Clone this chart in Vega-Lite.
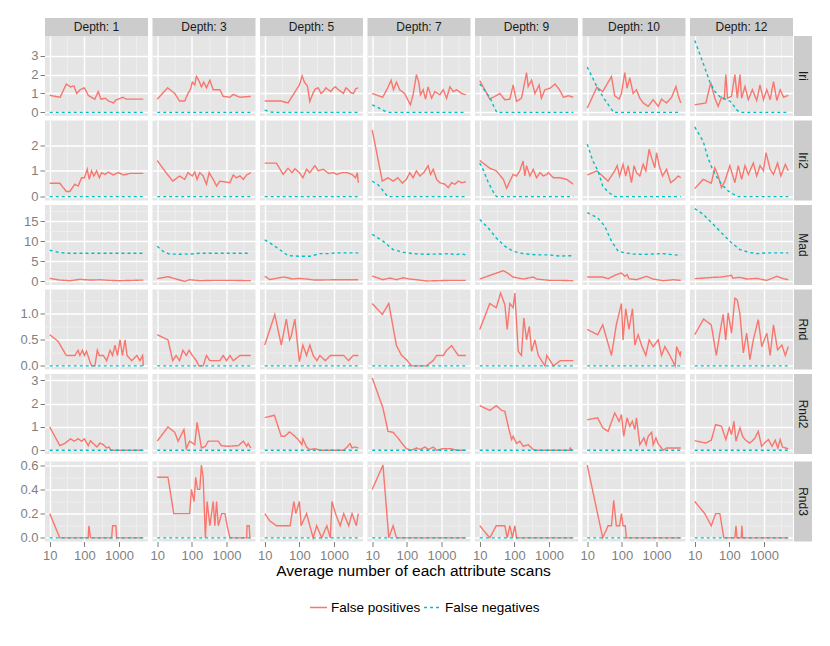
{
"$schema": "https://vega.github.io/schema/vega-lite/v6.json",
"padding": {"left": 15, "top": 18, "right": 10, "bottom": 10},
"config": {
 "font": "Liberation Sans",
 "view": {"fill": "#E5E5E5", "stroke": null},
 "axis": {"domain": false, "labelColor": "#7F7F7F", "labelFontSize": 13, "tickColor": "#7F7F7F", "tickSize": 5, "tickWidth": 1, "labelPadding": 2, "labelOverlap": false, "labelFlush": false},
 "title": {"fontSize": 15.5, "fontWeight": "normal", "color": "#000000"},
 "legend": {"symbolType": "stroke", "symbolSize": 289, "symbolStrokeWidth": 1.4, "labelFontSize": 13.5, "labelColor": "#000000", "labelOffset": 3, "columnPadding": 0}
},
"datasets": {"m": [
{"s":"Iri","d":1,"t":"P","x":10,"y":0.9},{"s":"Iri","d":1,"t":"P","x":20,"y":0.8},{"s":"Iri","d":1,"t":"P","x":30,"y":1.5},{"s":"Iri","d":1,"t":"P","x":40,"y":1.35},{"s":"Iri","d":1,"t":"P","x":50,"y":1.4},{"s":"Iri","d":1,"t":"P","x":60,"y":1.0},{"s":"Iri","d":1,"t":"P","x":75,"y":1.2},{"s":"Iri","d":1,"t":"P","x":100,"y":1.3},{"s":"Iri","d":1,"t":"P","x":130,"y":0.9},{"s":"Iri","d":1,"t":"P","x":160,"y":0.8},{"s":"Iri","d":1,"t":"P","x":200,"y":0.7},{"s":"Iri","d":1,"t":"P","x":250,"y":1.1},{"s":"Iri","d":1,"t":"P","x":300,"y":0.7},{"s":"Iri","d":1,"t":"P","x":400,"y":0.75},{"s":"Iri","d":1,"t":"P","x":500,"y":0.6},{"s":"Iri","d":1,"t":"P","x":700,"y":0.5},{"s":"Iri","d":1,"t":"P","x":800,"y":0.65},{"s":"Iri","d":1,"t":"P","x":1300,"y":0.8},{"s":"Iri","d":1,"t":"P","x":1600,"y":0.7},{"s":"Iri","d":1,"t":"P","x":5000,"y":0.7},
{"s":"Iri","d":1,"t":"N","x":10,"y":0},{"s":"Iri","d":1,"t":"N","x":5000,"y":0},
{"s":"Iri","d":3,"t":"P","x":10,"y":0.7},{"s":"Iri","d":3,"t":"P","x":20,"y":1.3},{"s":"Iri","d":3,"t":"P","x":32,"y":1.0},{"s":"Iri","d":3,"t":"P","x":44,"y":0.6},{"s":"Iri","d":3,"t":"P","x":62,"y":0.6},{"s":"Iri","d":3,"t":"P","x":77,"y":1.0},{"s":"Iri","d":3,"t":"P","x":90,"y":1.2},{"s":"Iri","d":3,"t":"P","x":103,"y":1.6},{"s":"Iri","d":3,"t":"P","x":121,"y":1.45},{"s":"Iri","d":3,"t":"P","x":135,"y":1.9},{"s":"Iri","d":3,"t":"P","x":158,"y":1.7},{"s":"Iri","d":3,"t":"P","x":188,"y":1.35},{"s":"Iri","d":3,"t":"P","x":220,"y":1.6},{"s":"Iri","d":3,"t":"P","x":263,"y":1.3},{"s":"Iri","d":3,"t":"P","x":330,"y":1.7},{"s":"Iri","d":3,"t":"P","x":411,"y":1.2},{"s":"Iri","d":3,"t":"P","x":641,"y":1.2},{"s":"Iri","d":3,"t":"P","x":800,"y":0.85},{"s":"Iri","d":3,"t":"P","x":1250,"y":0.8},{"s":"Iri","d":3,"t":"P","x":1560,"y":0.95},{"s":"Iri","d":3,"t":"P","x":2430,"y":0.8},{"s":"Iri","d":3,"t":"P","x":5000,"y":0.85},
{"s":"Iri","d":3,"t":"N","x":10,"y":0},{"s":"Iri","d":3,"t":"N","x":5000,"y":0},
{"s":"Iri","d":5,"t":"P","x":10,"y":0.6},{"s":"Iri","d":5,"t":"P","x":14,"y":0.6},{"s":"Iri","d":5,"t":"P","x":30,"y":0.6},{"s":"Iri","d":5,"t":"P","x":47,"y":0.5},{"s":"Iri","d":5,"t":"P","x":66,"y":0.93},{"s":"Iri","d":5,"t":"P","x":100,"y":1.45},{"s":"Iri","d":5,"t":"P","x":120,"y":1.93},{"s":"Iri","d":5,"t":"P","x":140,"y":1.6},{"s":"Iri","d":5,"t":"P","x":170,"y":1.4},{"s":"Iri","d":5,"t":"P","x":200,"y":0.58},{"s":"Iri","d":5,"t":"P","x":245,"y":1.0},{"s":"Iri","d":5,"t":"P","x":290,"y":1.25},{"s":"Iri","d":5,"t":"P","x":350,"y":1.3},{"s":"Iri","d":5,"t":"P","x":420,"y":1.0},{"s":"Iri","d":5,"t":"P","x":490,"y":1.1},{"s":"Iri","d":5,"t":"P","x":580,"y":1.3},{"s":"Iri","d":5,"t":"P","x":684,"y":1.2},{"s":"Iri","d":5,"t":"P","x":800,"y":1.1},{"s":"Iri","d":5,"t":"P","x":955,"y":1.28},{"s":"Iri","d":5,"t":"P","x":1100,"y":1.35},{"s":"Iri","d":5,"t":"P","x":1333,"y":1.2},{"s":"Iri","d":5,"t":"P","x":1600,"y":1.1},{"s":"Iri","d":5,"t":"P","x":1860,"y":1.0},{"s":"Iri","d":5,"t":"P","x":2200,"y":1.3},{"s":"Iri","d":5,"t":"P","x":2600,"y":1.2},{"s":"Iri","d":5,"t":"P","x":3000,"y":1.05},{"s":"Iri","d":5,"t":"P","x":3630,"y":1.0},{"s":"Iri","d":5,"t":"P","x":4200,"y":1.25},{"s":"Iri","d":5,"t":"P","x":5000,"y":1.3},
{"s":"Iri","d":5,"t":"N","x":10,"y":0.12},{"s":"Iri","d":5,"t":"N","x":15,"y":0.02},{"s":"Iri","d":5,"t":"N","x":20,"y":0},{"s":"Iri","d":5,"t":"N","x":5000,"y":0},
{"s":"Iri","d":7,"t":"P","x":10,"y":1.0},{"s":"Iri","d":7,"t":"P","x":20,"y":0.8},{"s":"Iri","d":7,"t":"P","x":28,"y":1.3},{"s":"Iri","d":7,"t":"P","x":35,"y":1.7},{"s":"Iri","d":7,"t":"P","x":41,"y":1.2},{"s":"Iri","d":7,"t":"P","x":50,"y":1.6},{"s":"Iri","d":7,"t":"P","x":62,"y":1.2},{"s":"Iri","d":7,"t":"P","x":86,"y":1.0},{"s":"Iri","d":7,"t":"P","x":126,"y":0.4},{"s":"Iri","d":7,"t":"P","x":151,"y":0.93},{"s":"Iri","d":7,"t":"P","x":188,"y":2.0},{"s":"Iri","d":7,"t":"P","x":220,"y":1.6},{"s":"Iri","d":7,"t":"P","x":246,"y":0.93},{"s":"Iri","d":7,"t":"P","x":294,"y":1.2},{"s":"Iri","d":7,"t":"P","x":345,"y":0.7},{"s":"Iri","d":7,"t":"P","x":410,"y":1.35},{"s":"Iri","d":7,"t":"P","x":514,"y":0.75},{"s":"Iri","d":7,"t":"P","x":640,"y":1.1},{"s":"Iri","d":7,"t":"P","x":890,"y":0.93},{"s":"Iri","d":7,"t":"P","x":1120,"y":1.2},{"s":"Iri","d":7,"t":"P","x":1400,"y":0.75},{"s":"Iri","d":7,"t":"P","x":1740,"y":1.35},{"s":"Iri","d":7,"t":"P","x":2180,"y":1.1},{"s":"Iri","d":7,"t":"P","x":2720,"y":1.2},{"s":"Iri","d":7,"t":"P","x":3800,"y":1.0},{"s":"Iri","d":7,"t":"P","x":5000,"y":0.93},
{"s":"Iri","d":7,"t":"N","x":10,"y":0.4},{"s":"Iri","d":7,"t":"N","x":15,"y":0.25},{"s":"Iri","d":7,"t":"N","x":20,"y":0.12},{"s":"Iri","d":7,"t":"N","x":28,"y":0},{"s":"Iri","d":7,"t":"N","x":5000,"y":0},
{"s":"Iri","d":9,"t":"P","x":10,"y":1.68},{"s":"Iri","d":9,"t":"P","x":19.5,"y":0.7},{"s":"Iri","d":9,"t":"P","x":38,"y":1.0},{"s":"Iri","d":9,"t":"P","x":53,"y":0.67},{"s":"Iri","d":9,"t":"P","x":74,"y":0.7},{"s":"Iri","d":9,"t":"P","x":92,"y":1.45},{"s":"Iri","d":9,"t":"P","x":115,"y":0.58},{"s":"Iri","d":9,"t":"P","x":160,"y":0.75},{"s":"Iri","d":9,"t":"P","x":200,"y":1.63},{"s":"Iri","d":9,"t":"P","x":224,"y":2.1},{"s":"Iri","d":9,"t":"P","x":250,"y":1.37},{"s":"Iri","d":9,"t":"P","x":313,"y":1.7},{"s":"Iri","d":9,"t":"P","x":390,"y":1.0},{"s":"Iri","d":9,"t":"P","x":520,"y":1.45},{"s":"Iri","d":9,"t":"P","x":600,"y":0.75},{"s":"Iri","d":9,"t":"P","x":760,"y":1.2},{"s":"Iri","d":9,"t":"P","x":1070,"y":1.28},{"s":"Iri","d":9,"t":"P","x":1490,"y":1.5},{"s":"Iri","d":9,"t":"P","x":2000,"y":1.2},{"s":"Iri","d":9,"t":"P","x":2600,"y":0.8},{"s":"Iri","d":9,"t":"P","x":3600,"y":0.88},{"s":"Iri","d":9,"t":"P","x":5000,"y":0.8},
{"s":"Iri","d":9,"t":"N","x":10,"y":1.5},{"s":"Iri","d":9,"t":"N","x":15,"y":1.1},{"s":"Iri","d":9,"t":"N","x":20,"y":0.75},{"s":"Iri","d":9,"t":"N","x":25,"y":0.35},{"s":"Iri","d":9,"t":"N","x":31,"y":0},{"s":"Iri","d":9,"t":"N","x":5000,"y":0},
{"s":"Iri","d":10,"t":"P","x":10,"y":0.23},{"s":"Iri","d":10,"t":"P","x":19,"y":1.33},{"s":"Iri","d":10,"t":"P","x":28,"y":1.1},{"s":"Iri","d":10,"t":"P","x":50,"y":1.9},{"s":"Iri","d":10,"t":"P","x":62,"y":0.88},{"s":"Iri","d":10,"t":"P","x":83,"y":0.7},{"s":"Iri","d":10,"t":"P","x":97,"y":1.0},{"s":"Iri","d":10,"t":"P","x":121,"y":2.1},{"s":"Iri","d":10,"t":"P","x":141,"y":1.28},{"s":"Iri","d":10,"t":"P","x":169,"y":1.83},{"s":"Iri","d":10,"t":"P","x":211,"y":1.0},{"s":"Iri","d":10,"t":"P","x":263,"y":1.2},{"s":"Iri","d":10,"t":"P","x":329,"y":0.75},{"s":"Iri","d":10,"t":"P","x":411,"y":0.5},{"s":"Iri","d":10,"t":"P","x":573,"y":0.32},{"s":"Iri","d":10,"t":"P","x":800,"y":0.67},{"s":"Iri","d":10,"t":"P","x":1120,"y":0.32},{"s":"Iri","d":10,"t":"P","x":1390,"y":0.7},{"s":"Iri","d":10,"t":"P","x":1940,"y":0.5},{"s":"Iri","d":10,"t":"P","x":2720,"y":0.8},{"s":"Iri","d":10,"t":"P","x":3630,"y":1.37},{"s":"Iri","d":10,"t":"P","x":4240,"y":0.88},{"s":"Iri","d":10,"t":"P","x":5000,"y":0.5},
{"s":"Iri","d":10,"t":"N","x":10,"y":2.4},{"s":"Iri","d":10,"t":"N","x":20,"y":1.28},{"s":"Iri","d":10,"t":"N","x":32,"y":0.67},{"s":"Iri","d":10,"t":"N","x":44,"y":0.32},{"s":"Iri","d":10,"t":"N","x":58,"y":0},{"s":"Iri","d":10,"t":"N","x":5000,"y":0},
{"s":"Iri","d":12,"t":"P","x":10,"y":0.4},{"s":"Iri","d":12,"t":"P","x":21,"y":0.5},{"s":"Iri","d":12,"t":"P","x":29,"y":1.58},{"s":"Iri","d":12,"t":"P","x":38,"y":0.75},{"s":"Iri","d":12,"t":"P","x":47.5,"y":0.32},{"s":"Iri","d":12,"t":"P","x":59,"y":0.8},{"s":"Iri","d":12,"t":"P","x":71,"y":0.7},{"s":"Iri","d":12,"t":"P","x":79,"y":2.0},{"s":"Iri","d":12,"t":"P","x":88,"y":0.75},{"s":"Iri","d":12,"t":"P","x":115,"y":0.85},{"s":"Iri","d":12,"t":"P","x":144,"y":2.0},{"s":"Iri","d":12,"t":"P","x":169,"y":0.75},{"s":"Iri","d":12,"t":"P","x":202,"y":2.0},{"s":"Iri","d":12,"t":"P","x":225,"y":0.75},{"s":"Iri","d":12,"t":"P","x":282,"y":1.37},{"s":"Iri","d":12,"t":"P","x":352,"y":0.67},{"s":"Iri","d":12,"t":"P","x":460,"y":1.2},{"s":"Iri","d":12,"t":"P","x":614,"y":0.63},{"s":"Iri","d":12,"t":"P","x":765,"y":1.45},{"s":"Iri","d":12,"t":"P","x":960,"y":0.67},{"s":"Iri","d":12,"t":"P","x":1200,"y":1.2},{"s":"Iri","d":12,"t":"P","x":1500,"y":0.67},{"s":"Iri","d":12,"t":"P","x":1870,"y":1.63},{"s":"Iri","d":12,"t":"P","x":2340,"y":0.63},{"s":"Iri","d":12,"t":"P","x":2920,"y":1.2},{"s":"Iri","d":12,"t":"P","x":3650,"y":0.8},{"s":"Iri","d":12,"t":"P","x":5000,"y":0.9},
{"s":"Iri","d":12,"t":"N","x":10,"y":3.8},{"s":"Iri","d":12,"t":"N","x":17.5,"y":2.6},{"s":"Iri","d":12,"t":"N","x":27,"y":1.63},{"s":"Iri","d":12,"t":"N","x":38,"y":1.1},{"s":"Iri","d":12,"t":"N","x":59,"y":0.75},{"s":"Iri","d":12,"t":"N","x":83,"y":0.7},{"s":"Iri","d":12,"t":"N","x":115,"y":0.53},{"s":"Iri","d":12,"t":"N","x":161,"y":0.14},{"s":"Iri","d":12,"t":"N","x":202,"y":0},{"s":"Iri","d":12,"t":"N","x":5000,"y":0},
{"s":"Iri2","d":1,"t":"P","x":10,"y":0.52},{"s":"Iri2","d":1,"t":"P","x":19.5,"y":0.52},{"s":"Iri2","d":1,"t":"P","x":30,"y":0.2},{"s":"Iri2","d":1,"t":"P","x":38,"y":0.2},{"s":"Iri2","d":1,"t":"P","x":53,"y":0.48},{"s":"Iri2","d":1,"t":"P","x":66,"y":0.41},{"s":"Iri2","d":1,"t":"P","x":83,"y":0.73},{"s":"Iri2","d":1,"t":"P","x":100,"y":0.73},{"s":"Iri2","d":1,"t":"P","x":121,"y":1.06},{"s":"Iri2","d":1,"t":"P","x":138,"y":0.67},{"s":"Iri2","d":1,"t":"P","x":161,"y":1.0},{"s":"Iri2","d":1,"t":"P","x":188,"y":0.8},{"s":"Iri2","d":1,"t":"P","x":225,"y":1.0},{"s":"Iri2","d":1,"t":"P","x":270,"y":0.73},{"s":"Iri2","d":1,"t":"P","x":314,"y":0.93},{"s":"Iri2","d":1,"t":"P","x":392,"y":0.86},{"s":"Iri2","d":1,"t":"P","x":490,"y":0.95},{"s":"Iri2","d":1,"t":"P","x":680,"y":0.84},{"s":"Iri2","d":1,"t":"P","x":953,"y":0.93},{"s":"Iri2","d":1,"t":"P","x":1340,"y":0.84},{"s":"Iri2","d":1,"t":"P","x":2100,"y":0.9},{"s":"Iri2","d":1,"t":"P","x":5000,"y":0.9},
{"s":"Iri2","d":1,"t":"N","x":10,"y":0},{"s":"Iri2","d":1,"t":"N","x":5000,"y":0},
{"s":"Iri2","d":3,"t":"P","x":10,"y":1.4},{"s":"Iri2","d":3,"t":"P","x":18,"y":0.93},{"s":"Iri2","d":3,"t":"P","x":28,"y":0.6},{"s":"Iri2","d":3,"t":"P","x":44,"y":0.8},{"s":"Iri2","d":3,"t":"P","x":62,"y":0.67},{"s":"Iri2","d":3,"t":"P","x":77,"y":0.93},{"s":"Iri2","d":3,"t":"P","x":103,"y":0.8},{"s":"Iri2","d":3,"t":"P","x":121,"y":0.95},{"s":"Iri2","d":3,"t":"P","x":141,"y":0.67},{"s":"Iri2","d":3,"t":"P","x":169,"y":0.93},{"s":"Iri2","d":3,"t":"P","x":211,"y":0.8},{"s":"Iri2","d":3,"t":"P","x":263,"y":0.48},{"s":"Iri2","d":3,"t":"P","x":315,"y":0.93},{"s":"Iri2","d":3,"t":"P","x":411,"y":0.67},{"s":"Iri2","d":3,"t":"P","x":515,"y":0.41},{"s":"Iri2","d":3,"t":"P","x":641,"y":0.6},{"s":"Iri2","d":3,"t":"P","x":900,"y":0.57},{"s":"Iri2","d":3,"t":"P","x":1250,"y":0.54},{"s":"Iri2","d":3,"t":"P","x":1560,"y":0.84},{"s":"Iri2","d":3,"t":"P","x":1950,"y":0.73},{"s":"Iri2","d":3,"t":"P","x":2430,"y":0.8},{"s":"Iri2","d":3,"t":"P","x":3040,"y":0.67},{"s":"Iri2","d":3,"t":"P","x":3800,"y":0.84},{"s":"Iri2","d":3,"t":"P","x":5000,"y":0.93},
{"s":"Iri2","d":3,"t":"N","x":10,"y":0},{"s":"Iri2","d":3,"t":"N","x":5000,"y":0},
{"s":"Iri2","d":5,"t":"P","x":10,"y":1.3},{"s":"Iri2","d":5,"t":"P","x":21.8,"y":1.3},{"s":"Iri2","d":5,"t":"P","x":34,"y":0.86},{"s":"Iri2","d":5,"t":"P","x":47,"y":1.1},{"s":"Iri2","d":5,"t":"P","x":61,"y":0.93},{"s":"Iri2","d":5,"t":"P","x":74,"y":1.08},{"s":"Iri2","d":5,"t":"P","x":100,"y":0.93},{"s":"Iri2","d":5,"t":"P","x":126,"y":0.73},{"s":"Iri2","d":5,"t":"P","x":161,"y":1.06},{"s":"Iri2","d":5,"t":"P","x":200,"y":0.93},{"s":"Iri2","d":5,"t":"P","x":280,"y":1.2},{"s":"Iri2","d":5,"t":"P","x":350,"y":1.0},{"s":"Iri2","d":5,"t":"P","x":490,"y":1.06},{"s":"Iri2","d":5,"t":"P","x":690,"y":0.9},{"s":"Iri2","d":5,"t":"P","x":955,"y":0.93},{"s":"Iri2","d":5,"t":"P","x":1200,"y":0.86},{"s":"Iri2","d":5,"t":"P","x":1700,"y":0.93},{"s":"Iri2","d":5,"t":"P","x":2380,"y":0.93},{"s":"Iri2","d":5,"t":"P","x":3300,"y":0.86},{"s":"Iri2","d":5,"t":"P","x":4170,"y":0.73},{"s":"Iri2","d":5,"t":"P","x":4700,"y":0.93},{"s":"Iri2","d":5,"t":"P","x":5000,"y":0.54},
{"s":"Iri2","d":5,"t":"N","x":10,"y":0},{"s":"Iri2","d":5,"t":"N","x":5000,"y":0},
{"s":"Iri2","d":7,"t":"P","x":10,"y":2.58},{"s":"Iri2","d":7,"t":"P","x":19.5,"y":0.6},{"s":"Iri2","d":7,"t":"P","x":28.5,"y":0.73},{"s":"Iri2","d":7,"t":"P","x":40,"y":0.6},{"s":"Iri2","d":7,"t":"P","x":55,"y":0.73},{"s":"Iri2","d":7,"t":"P","x":74,"y":0.52},{"s":"Iri2","d":7,"t":"P","x":97,"y":0.67},{"s":"Iri2","d":7,"t":"P","x":121,"y":0.93},{"s":"Iri2","d":7,"t":"P","x":151,"y":0.73},{"s":"Iri2","d":7,"t":"P","x":188,"y":1.0},{"s":"Iri2","d":7,"t":"P","x":236,"y":0.8},{"s":"Iri2","d":7,"t":"P","x":307,"y":0.93},{"s":"Iri2","d":7,"t":"P","x":410,"y":1.2},{"s":"Iri2","d":7,"t":"P","x":480,"y":0.86},{"s":"Iri2","d":7,"t":"P","x":574,"y":1.06},{"s":"Iri2","d":7,"t":"P","x":720,"y":0.67},{"s":"Iri2","d":7,"t":"P","x":890,"y":0.54},{"s":"Iri2","d":7,"t":"P","x":1250,"y":0.48},{"s":"Iri2","d":7,"t":"P","x":1560,"y":0.35},{"s":"Iri2","d":7,"t":"P","x":1950,"y":0.54},{"s":"Iri2","d":7,"t":"P","x":2430,"y":0.48},{"s":"Iri2","d":7,"t":"P","x":3040,"y":0.6},{"s":"Iri2","d":7,"t":"P","x":3800,"y":0.54},{"s":"Iri2","d":7,"t":"P","x":5000,"y":0.57},
{"s":"Iri2","d":7,"t":"N","x":10,"y":0.6},{"s":"Iri2","d":7,"t":"N","x":15,"y":0.45},{"s":"Iri2","d":7,"t":"N","x":20,"y":0.25},{"s":"Iri2","d":7,"t":"N","x":28,"y":0},{"s":"Iri2","d":7,"t":"N","x":5000,"y":0},
{"s":"Iri2","d":9,"t":"P","x":10,"y":1.4},{"s":"Iri2","d":9,"t":"P","x":19.5,"y":1.1},{"s":"Iri2","d":9,"t":"P","x":30,"y":1.0},{"s":"Iri2","d":9,"t":"P","x":48,"y":0.67},{"s":"Iri2","d":9,"t":"P","x":60,"y":0.32},{"s":"Iri2","d":9,"t":"P","x":74,"y":0.6},{"s":"Iri2","d":9,"t":"P","x":92,"y":0.86},{"s":"Iri2","d":9,"t":"P","x":115,"y":0.8},{"s":"Iri2","d":9,"t":"P","x":143,"y":1.0},{"s":"Iri2","d":9,"t":"P","x":178,"y":1.38},{"s":"Iri2","d":9,"t":"P","x":200,"y":0.8},{"s":"Iri2","d":9,"t":"P","x":224,"y":1.2},{"s":"Iri2","d":9,"t":"P","x":280,"y":0.8},{"s":"Iri2","d":9,"t":"P","x":350,"y":1.06},{"s":"Iri2","d":9,"t":"P","x":437,"y":0.73},{"s":"Iri2","d":9,"t":"P","x":546,"y":0.93},{"s":"Iri2","d":9,"t":"P","x":680,"y":0.8},{"s":"Iri2","d":9,"t":"P","x":860,"y":0.86},{"s":"Iri2","d":9,"t":"P","x":950,"y":0.93},{"s":"Iri2","d":9,"t":"P","x":1340,"y":0.73},{"s":"Iri2","d":9,"t":"P","x":2100,"y":0.73},{"s":"Iri2","d":9,"t":"P","x":3200,"y":0.67},{"s":"Iri2","d":9,"t":"P","x":5000,"y":0.48},
{"s":"Iri2","d":9,"t":"N","x":10,"y":1.3},{"s":"Iri2","d":9,"t":"N","x":13,"y":1.0},{"s":"Iri2","d":9,"t":"N","x":17,"y":0.6},{"s":"Iri2","d":9,"t":"N","x":22,"y":0.3},{"s":"Iri2","d":9,"t":"N","x":28,"y":0.05},{"s":"Iri2","d":9,"t":"N","x":31,"y":0},{"s":"Iri2","d":9,"t":"N","x":5000,"y":0},
{"s":"Iri2","d":10,"t":"P","x":10,"y":0.84},{"s":"Iri2","d":10,"t":"P","x":19,"y":1.0},{"s":"Iri2","d":10,"t":"P","x":40,"y":0.6},{"s":"Iri2","d":10,"t":"P","x":62,"y":1.0},{"s":"Iri2","d":10,"t":"P","x":73,"y":1.2},{"s":"Iri2","d":10,"t":"P","x":86,"y":0.8},{"s":"Iri2","d":10,"t":"P","x":108,"y":1.25},{"s":"Iri2","d":10,"t":"P","x":129,"y":0.8},{"s":"Iri2","d":10,"t":"P","x":151,"y":1.2},{"s":"Iri2","d":10,"t":"P","x":189,"y":0.54},{"s":"Iri2","d":10,"t":"P","x":225,"y":1.2},{"s":"Iri2","d":10,"t":"P","x":263,"y":0.93},{"s":"Iri2","d":10,"t":"P","x":329,"y":0.8},{"s":"Iri2","d":10,"t":"P","x":411,"y":1.25},{"s":"Iri2","d":10,"t":"P","x":490,"y":1.0},{"s":"Iri2","d":10,"t":"P","x":612,"y":1.84},{"s":"Iri2","d":10,"t":"P","x":720,"y":1.5},{"s":"Iri2","d":10,"t":"P","x":890,"y":1.12},{"s":"Iri2","d":10,"t":"P","x":1000,"y":1.7},{"s":"Iri2","d":10,"t":"P","x":1190,"y":1.2},{"s":"Iri2","d":10,"t":"P","x":1490,"y":0.8},{"s":"Iri2","d":10,"t":"P","x":1940,"y":1.06},{"s":"Iri2","d":10,"t":"P","x":2560,"y":0.54},{"s":"Iri2","d":10,"t":"P","x":3420,"y":0.67},{"s":"Iri2","d":10,"t":"P","x":4240,"y":0.8},{"s":"Iri2","d":10,"t":"P","x":5000,"y":0.73},
{"s":"Iri2","d":10,"t":"N","x":10,"y":2.03},{"s":"Iri2","d":10,"t":"N","x":14.6,"y":1.38},{"s":"Iri2","d":10,"t":"N","x":20.4,"y":1.0},{"s":"Iri2","d":10,"t":"N","x":28,"y":0.41},{"s":"Iri2","d":10,"t":"N","x":40,"y":0.18},{"s":"Iri2","d":10,"t":"N","x":62,"y":0},{"s":"Iri2","d":10,"t":"N","x":5000,"y":0},
{"s":"Iri2","d":12,"t":"P","x":10,"y":0.31},{"s":"Iri2","d":12,"t":"P","x":17.5,"y":0.67},{"s":"Iri2","d":12,"t":"P","x":30,"y":0.52},{"s":"Iri2","d":12,"t":"P","x":38,"y":1.12},{"s":"Iri2","d":12,"t":"P","x":47.5,"y":0.8},{"s":"Iri2","d":12,"t":"P","x":59,"y":0.35},{"s":"Iri2","d":12,"t":"P","x":74,"y":0.6},{"s":"Iri2","d":12,"t":"P","x":103,"y":1.2},{"s":"Iri2","d":12,"t":"P","x":144,"y":0.54},{"s":"Iri2","d":12,"t":"P","x":180,"y":1.2},{"s":"Iri2","d":12,"t":"P","x":225,"y":0.67},{"s":"Iri2","d":12,"t":"P","x":282,"y":1.2},{"s":"Iri2","d":12,"t":"P","x":352,"y":0.86},{"s":"Iri2","d":12,"t":"P","x":490,"y":1.3},{"s":"Iri2","d":12,"t":"P","x":614,"y":0.8},{"s":"Iri2","d":12,"t":"P","x":765,"y":1.2},{"s":"Iri2","d":12,"t":"P","x":960,"y":1.0},{"s":"Iri2","d":12,"t":"P","x":1140,"y":1.7},{"s":"Iri2","d":12,"t":"P","x":1500,"y":1.06},{"s":"Iri2","d":12,"t":"P","x":1870,"y":0.86},{"s":"Iri2","d":12,"t":"P","x":2450,"y":1.3},{"s":"Iri2","d":12,"t":"P","x":3060,"y":0.8},{"s":"Iri2","d":12,"t":"P","x":4100,"y":1.25},{"s":"Iri2","d":12,"t":"P","x":5000,"y":1.0},
{"s":"Iri2","d":12,"t":"N","x":10,"y":2.7},{"s":"Iri2","d":12,"t":"N","x":17.5,"y":2.15},{"s":"Iri2","d":12,"t":"N","x":24,"y":1.5},{"s":"Iri2","d":12,"t":"N","x":34,"y":1.0},{"s":"Iri2","d":12,"t":"N","x":47.5,"y":0.67},{"s":"Iri2","d":12,"t":"N","x":66,"y":0.41},{"s":"Iri2","d":12,"t":"N","x":92,"y":0.22},{"s":"Iri2","d":12,"t":"N","x":129,"y":0.1},{"s":"Iri2","d":12,"t":"N","x":180,"y":0},{"s":"Iri2","d":12,"t":"N","x":5000,"y":0},
{"s":"Mad","d":1,"t":"P","x":10,"y":0.75},{"s":"Mad","d":1,"t":"P","x":19.5,"y":0.33},{"s":"Mad","d":1,"t":"P","x":38,"y":0.17},{"s":"Mad","d":1,"t":"P","x":74,"y":0.5},{"s":"Mad","d":1,"t":"P","x":145,"y":0.33},{"s":"Mad","d":1,"t":"P","x":280,"y":0.4},{"s":"Mad","d":1,"t":"P","x":550,"y":0.25},{"s":"Mad","d":1,"t":"P","x":1060,"y":0.17},{"s":"Mad","d":1,"t":"P","x":2500,"y":0.25},{"s":"Mad","d":1,"t":"P","x":5000,"y":0.33},
{"s":"Mad","d":1,"t":"N","x":10,"y":7.75},{"s":"Mad","d":1,"t":"N","x":17.5,"y":7.25},{"s":"Mad","d":1,"t":"N","x":30,"y":7.0},{"s":"Mad","d":1,"t":"N","x":5000,"y":7.0},
{"s":"Mad","d":3,"t":"P","x":10,"y":0.67},{"s":"Mad","d":3,"t":"P","x":20.4,"y":1.17},{"s":"Mad","d":3,"t":"P","x":35,"y":0.58},{"s":"Mad","d":3,"t":"P","x":62,"y":0.0},{"s":"Mad","d":3,"t":"P","x":86,"y":0.42},{"s":"Mad","d":3,"t":"P","x":169,"y":0.17},{"s":"Mad","d":3,"t":"P","x":411,"y":0.25},{"s":"Mad","d":3,"t":"P","x":1560,"y":0.25},{"s":"Mad","d":3,"t":"P","x":5000,"y":0.17},
{"s":"Mad","d":3,"t":"N","x":10,"y":8.75},{"s":"Mad","d":3,"t":"N","x":14.6,"y":7.5},{"s":"Mad","d":3,"t":"N","x":22.3,"y":6.8},{"s":"Mad","d":3,"t":"N","x":44,"y":6.75},{"s":"Mad","d":3,"t":"N","x":86,"y":6.8},{"s":"Mad","d":3,"t":"N","x":169,"y":7.0},{"s":"Mad","d":3,"t":"N","x":5000,"y":7.0},
{"s":"Mad","d":5,"t":"P","x":10,"y":1.25},{"s":"Mad","d":5,"t":"P","x":14,"y":0.45},{"s":"Mad","d":5,"t":"P","x":21.8,"y":0.75},{"s":"Mad","d":5,"t":"P","x":34,"y":1.08},{"s":"Mad","d":5,"t":"P","x":47,"y":0.9},{"s":"Mad","d":5,"t":"P","x":61,"y":0.58},{"s":"Mad","d":5,"t":"P","x":100,"y":0.75},{"s":"Mad","d":5,"t":"P","x":161,"y":0.58},{"s":"Mad","d":5,"t":"P","x":280,"y":0.33},{"s":"Mad","d":5,"t":"P","x":1000,"y":0.4},{"s":"Mad","d":5,"t":"P","x":5000,"y":0.4},
{"s":"Mad","d":5,"t":"N","x":10,"y":10.3},{"s":"Mad","d":5,"t":"N","x":14,"y":9.6},{"s":"Mad","d":5,"t":"N","x":27,"y":7.9},{"s":"Mad","d":5,"t":"N","x":47,"y":6.4},{"s":"Mad","d":5,"t":"N","x":100,"y":6.25},{"s":"Mad","d":5,"t":"N","x":200,"y":6.25},{"s":"Mad","d":5,"t":"N","x":390,"y":6.9},{"s":"Mad","d":5,"t":"N","x":690,"y":6.9},{"s":"Mad","d":5,"t":"N","x":1200,"y":7.1},{"s":"Mad","d":5,"t":"N","x":5000,"y":7.1},
{"s":"Mad","d":7,"t":"P","x":10,"y":1.33},{"s":"Mad","d":7,"t":"P","x":20.4,"y":0.42},{"s":"Mad","d":7,"t":"P","x":32,"y":0.83},{"s":"Mad","d":7,"t":"P","x":50,"y":0.42},{"s":"Mad","d":7,"t":"P","x":77,"y":0.9},{"s":"Mad","d":7,"t":"P","x":121,"y":0.58},{"s":"Mad","d":7,"t":"P","x":188,"y":0.42},{"s":"Mad","d":7,"t":"P","x":366,"y":0.1},{"s":"Mad","d":7,"t":"P","x":720,"y":0.17},{"s":"Mad","d":7,"t":"P","x":1740,"y":0.25},{"s":"Mad","d":7,"t":"P","x":5000,"y":0.25},
{"s":"Mad","d":7,"t":"N","x":10,"y":11.7},{"s":"Mad","d":7,"t":"N","x":20.4,"y":10},{"s":"Mad","d":7,"t":"N","x":40,"y":7.9},{"s":"Mad","d":7,"t":"N","x":77,"y":7.25},{"s":"Mad","d":7,"t":"N","x":151,"y":6.9},{"s":"Mad","d":7,"t":"N","x":366,"y":6.75},{"s":"Mad","d":7,"t":"N","x":890,"y":6.8},{"s":"Mad","d":7,"t":"N","x":1740,"y":6.9},{"s":"Mad","d":7,"t":"N","x":2500,"y":6.6},{"s":"Mad","d":7,"t":"N","x":3500,"y":6.9},{"s":"Mad","d":7,"t":"N","x":5000,"y":6.6},
{"s":"Mad","d":9,"t":"P","x":10,"y":0.58},{"s":"Mad","d":9,"t":"P","x":48,"y":2.67},{"s":"Mad","d":9,"t":"P","x":68,"y":1.9},{"s":"Mad","d":9,"t":"P","x":92,"y":1.08},{"s":"Mad","d":9,"t":"P","x":178,"y":0.58},{"s":"Mad","d":9,"t":"P","x":350,"y":1.08},{"s":"Mad","d":9,"t":"P","x":437,"y":0.58},{"s":"Mad","d":9,"t":"P","x":1060,"y":0.25},{"s":"Mad","d":9,"t":"P","x":2000,"y":0.25},{"s":"Mad","d":9,"t":"P","x":5000,"y":0.17},
{"s":"Mad","d":9,"t":"N","x":10,"y":15.4},{"s":"Mad","d":9,"t":"N","x":17.5,"y":13.3},{"s":"Mad","d":9,"t":"N","x":30,"y":10.8},{"s":"Mad","d":9,"t":"N","x":53,"y":8.75},{"s":"Mad","d":9,"t":"N","x":92,"y":7.5},{"s":"Mad","d":9,"t":"N","x":178,"y":6.9},{"s":"Mad","d":9,"t":"N","x":437,"y":6.6},{"s":"Mad","d":9,"t":"N","x":1000,"y":6.6},{"s":"Mad","d":9,"t":"N","x":2000,"y":6.3},{"s":"Mad","d":9,"t":"N","x":5000,"y":6.4},
{"s":"Mad","d":10,"t":"P","x":10,"y":1.08},{"s":"Mad","d":10,"t":"P","x":28,"y":1.08},{"s":"Mad","d":10,"t":"P","x":40,"y":0.67},{"s":"Mad","d":10,"t":"P","x":69,"y":1.67},{"s":"Mad","d":10,"t":"P","x":97,"y":2.1},{"s":"Mad","d":10,"t":"P","x":121,"y":1.25},{"s":"Mad","d":10,"t":"P","x":141,"y":1.67},{"s":"Mad","d":10,"t":"P","x":160,"y":0.67},{"s":"Mad","d":10,"t":"P","x":263,"y":0.42},{"s":"Mad","d":10,"t":"P","x":510,"y":1.25},{"s":"Mad","d":10,"t":"P","x":800,"y":0.58},{"s":"Mad","d":10,"t":"P","x":1560,"y":0.17},{"s":"Mad","d":10,"t":"P","x":3040,"y":0.42},{"s":"Mad","d":10,"t":"P","x":5000,"y":0.25},
{"s":"Mad","d":10,"t":"N","x":10,"y":17.1},{"s":"Mad","d":10,"t":"N","x":20,"y":15.8},{"s":"Mad","d":10,"t":"N","x":32,"y":13.75},{"s":"Mad","d":10,"t":"N","x":50,"y":10},{"s":"Mad","d":10,"t":"N","x":78,"y":7.5},{"s":"Mad","d":10,"t":"N","x":121,"y":7.1},{"s":"Mad","d":10,"t":"N","x":211,"y":6.8},{"s":"Mad","d":10,"t":"N","x":411,"y":6.7},{"s":"Mad","d":10,"t":"N","x":800,"y":6.8},{"s":"Mad","d":10,"t":"N","x":1560,"y":6.9},{"s":"Mad","d":10,"t":"N","x":3040,"y":6.6},{"s":"Mad","d":10,"t":"N","x":5000,"y":6.5},
{"s":"Mad","d":12,"t":"P","x":10,"y":0.67},{"s":"Mad","d":12,"t":"P","x":34,"y":1.0},{"s":"Mad","d":12,"t":"P","x":59,"y":1.08},{"s":"Mad","d":12,"t":"P","x":115,"y":1.5},{"s":"Mad","d":12,"t":"P","x":125,"y":0.83},{"s":"Mad","d":12,"t":"P","x":202,"y":1.0},{"s":"Mad","d":12,"t":"P","x":315,"y":0.58},{"s":"Mad","d":12,"t":"P","x":614,"y":0.75},{"s":"Mad","d":12,"t":"P","x":1200,"y":0.25},{"s":"Mad","d":12,"t":"P","x":2340,"y":1.25},{"s":"Mad","d":12,"t":"P","x":3650,"y":0.67},{"s":"Mad","d":12,"t":"P","x":5000,"y":0.42},
{"s":"Mad","d":12,"t":"N","x":10,"y":18.1},{"s":"Mad","d":12,"t":"N","x":17.5,"y":16.7},{"s":"Mad","d":12,"t":"N","x":34,"y":14.2},{"s":"Mad","d":12,"t":"N","x":59,"y":12.1},{"s":"Mad","d":12,"t":"N","x":115,"y":9.6},{"s":"Mad","d":12,"t":"N","x":202,"y":7.9},{"s":"Mad","d":12,"t":"N","x":352,"y":7.25},{"s":"Mad","d":12,"t":"N","x":614,"y":6.9},{"s":"Mad","d":12,"t":"N","x":1200,"y":7.1},{"s":"Mad","d":12,"t":"N","x":5000,"y":7.1},
{"s":"Rnd","d":1,"t":"P","x":10,"y":0.6},{"s":"Rnd","d":1,"t":"P","x":17.5,"y":0.47},{"s":"Rnd","d":1,"t":"P","x":30,"y":0.2},{"s":"Rnd","d":1,"t":"P","x":53,"y":0.2},{"s":"Rnd","d":1,"t":"P","x":66,"y":0.3},{"s":"Rnd","d":1,"t":"P","x":74,"y":0.2},{"s":"Rnd","d":1,"t":"P","x":88,"y":0.3},{"s":"Rnd","d":1,"t":"P","x":100,"y":0.2},{"s":"Rnd","d":1,"t":"P","x":115,"y":0.28},{"s":"Rnd","d":1,"t":"P","x":145,"y":0.08},{"s":"Rnd","d":1,"t":"P","x":161,"y":0},{"s":"Rnd","d":1,"t":"P","x":201,"y":0},{"s":"Rnd","d":1,"t":"P","x":236,"y":0.3},{"s":"Rnd","d":1,"t":"P","x":270,"y":0.2},{"s":"Rnd","d":1,"t":"P","x":352,"y":0.2},{"s":"Rnd","d":1,"t":"P","x":440,"y":0.1},{"s":"Rnd","d":1,"t":"P","x":550,"y":0.3},{"s":"Rnd","d":1,"t":"P","x":650,"y":0.2},{"s":"Rnd","d":1,"t":"P","x":763,"y":0.4},{"s":"Rnd","d":1,"t":"P","x":900,"y":0.2},{"s":"Rnd","d":1,"t":"P","x":1070,"y":0.5},{"s":"Rnd","d":1,"t":"P","x":1250,"y":0.2},{"s":"Rnd","d":1,"t":"P","x":1490,"y":0.5},{"s":"Rnd","d":1,"t":"P","x":1700,"y":0.2},{"s":"Rnd","d":1,"t":"P","x":2320,"y":0.1},{"s":"Rnd","d":1,"t":"P","x":3270,"y":0.2},{"s":"Rnd","d":1,"t":"P","x":4000,"y":0.1},{"s":"Rnd","d":1,"t":"P","x":4800,"y":0.2},{"s":"Rnd","d":1,"t":"P","x":5000,"y":0},
{"s":"Rnd","d":1,"t":"N","x":10,"y":0},{"s":"Rnd","d":1,"t":"N","x":5000,"y":0},
{"s":"Rnd","d":3,"t":"P","x":10,"y":0.6},{"s":"Rnd","d":3,"t":"P","x":20.4,"y":0.5},{"s":"Rnd","d":3,"t":"P","x":28,"y":0.1},{"s":"Rnd","d":3,"t":"P","x":35,"y":0.2},{"s":"Rnd","d":3,"t":"P","x":44,"y":0.1},{"s":"Rnd","d":3,"t":"P","x":55,"y":0.3},{"s":"Rnd","d":3,"t":"P","x":69,"y":0.2},{"s":"Rnd","d":3,"t":"P","x":83,"y":0.3},{"s":"Rnd","d":3,"t":"P","x":103,"y":0.2},{"s":"Rnd","d":3,"t":"P","x":135,"y":0.1},{"s":"Rnd","d":3,"t":"P","x":158,"y":0},{"s":"Rnd","d":3,"t":"P","x":211,"y":0},{"s":"Rnd","d":3,"t":"P","x":263,"y":0.2},{"s":"Rnd","d":3,"t":"P","x":330,"y":0.1},{"s":"Rnd","d":3,"t":"P","x":641,"y":0.1},{"s":"Rnd","d":3,"t":"P","x":800,"y":0.2},{"s":"Rnd","d":3,"t":"P","x":1000,"y":0.1},{"s":"Rnd","d":3,"t":"P","x":1250,"y":0.2},{"s":"Rnd","d":3,"t":"P","x":1560,"y":0.1},{"s":"Rnd","d":3,"t":"P","x":2430,"y":0.2},{"s":"Rnd","d":3,"t":"P","x":5000,"y":0.2},
{"s":"Rnd","d":3,"t":"N","x":10,"y":0},{"s":"Rnd","d":3,"t":"N","x":5000,"y":0},
{"s":"Rnd","d":5,"t":"P","x":10,"y":0.4},{"s":"Rnd","d":5,"t":"P","x":19.5,"y":0.99},{"s":"Rnd","d":5,"t":"P","x":30,"y":0.4},{"s":"Rnd","d":5,"t":"P","x":42,"y":0.9},{"s":"Rnd","d":5,"t":"P","x":52,"y":0.5},{"s":"Rnd","d":5,"t":"P","x":58,"y":0.57},{"s":"Rnd","d":5,"t":"P","x":74,"y":0.9},{"s":"Rnd","d":5,"t":"P","x":100,"y":0.08},{"s":"Rnd","d":5,"t":"P","x":126,"y":0.4},{"s":"Rnd","d":5,"t":"P","x":161,"y":0.2},{"s":"Rnd","d":5,"t":"P","x":200,"y":0.4},{"s":"Rnd","d":5,"t":"P","x":250,"y":0.2},{"s":"Rnd","d":5,"t":"P","x":320,"y":0.1},{"s":"Rnd","d":5,"t":"P","x":390,"y":0.2},{"s":"Rnd","d":5,"t":"P","x":560,"y":0.1},{"s":"Rnd","d":5,"t":"P","x":780,"y":0.2},{"s":"Rnd","d":5,"t":"P","x":1200,"y":0.2},{"s":"Rnd","d":5,"t":"P","x":1900,"y":0.2},{"s":"Rnd","d":5,"t":"P","x":2600,"y":0.1},{"s":"Rnd","d":5,"t":"P","x":3600,"y":0.2},{"s":"Rnd","d":5,"t":"P","x":5000,"y":0.2},
{"s":"Rnd","d":5,"t":"N","x":10,"y":0},{"s":"Rnd","d":5,"t":"N","x":5000,"y":0},
{"s":"Rnd","d":7,"t":"P","x":10,"y":1.2},{"s":"Rnd","d":7,"t":"P","x":19.5,"y":0.99},{"s":"Rnd","d":7,"t":"P","x":30,"y":1.2},{"s":"Rnd","d":7,"t":"P","x":50,"y":0.39},{"s":"Rnd","d":7,"t":"P","x":69,"y":0.21},{"s":"Rnd","d":7,"t":"P","x":97,"y":0.12},{"s":"Rnd","d":7,"t":"P","x":135,"y":0},{"s":"Rnd","d":7,"t":"P","x":366,"y":0},{"s":"Rnd","d":7,"t":"P","x":450,"y":0.05},{"s":"Rnd","d":7,"t":"P","x":570,"y":0.1},{"s":"Rnd","d":7,"t":"P","x":720,"y":0.2},{"s":"Rnd","d":7,"t":"P","x":1120,"y":0.2},{"s":"Rnd","d":7,"t":"P","x":1400,"y":0.3},{"s":"Rnd","d":7,"t":"P","x":1950,"y":0.39},{"s":"Rnd","d":7,"t":"P","x":2400,"y":0.3},{"s":"Rnd","d":7,"t":"P","x":3040,"y":0.2},{"s":"Rnd","d":7,"t":"P","x":5000,"y":0.2},
{"s":"Rnd","d":7,"t":"N","x":10,"y":0},{"s":"Rnd","d":7,"t":"N","x":5000,"y":0},
{"s":"Rnd","d":9,"t":"P","x":10,"y":0.7},{"s":"Rnd","d":9,"t":"P","x":19.5,"y":1.2},{"s":"Rnd","d":9,"t":"P","x":30,"y":1.12},{"s":"Rnd","d":9,"t":"P","x":40,"y":1.4},{"s":"Rnd","d":9,"t":"P","x":53,"y":1.18},{"s":"Rnd","d":9,"t":"P","x":62,"y":0.7},{"s":"Rnd","d":9,"t":"P","x":74,"y":1.2},{"s":"Rnd","d":9,"t":"P","x":92,"y":1.12},{"s":"Rnd","d":9,"t":"P","x":103,"y":1.4},{"s":"Rnd","d":9,"t":"P","x":129,"y":0.28},{"s":"Rnd","d":9,"t":"P","x":160,"y":0.2},{"s":"Rnd","d":9,"t":"P","x":187,"y":0.92},{"s":"Rnd","d":9,"t":"P","x":224,"y":0.5},{"s":"Rnd","d":9,"t":"P","x":270,"y":0.76},{"s":"Rnd","d":9,"t":"P","x":313,"y":0.28},{"s":"Rnd","d":9,"t":"P","x":390,"y":0.5},{"s":"Rnd","d":9,"t":"P","x":490,"y":0.2},{"s":"Rnd","d":9,"t":"P","x":610,"y":0.1},{"s":"Rnd","d":9,"t":"P","x":760,"y":0},{"s":"Rnd","d":9,"t":"P","x":860,"y":0.2},{"s":"Rnd","d":9,"t":"P","x":1340,"y":0},{"s":"Rnd","d":9,"t":"P","x":2100,"y":0.1},{"s":"Rnd","d":9,"t":"P","x":3200,"y":0.1},{"s":"Rnd","d":9,"t":"P","x":5000,"y":0.1},
{"s":"Rnd","d":9,"t":"N","x":10,"y":0},{"s":"Rnd","d":9,"t":"N","x":5000,"y":0},
{"s":"Rnd","d":10,"t":"P","x":10,"y":0.7},{"s":"Rnd","d":10,"t":"P","x":20,"y":0.6},{"s":"Rnd","d":10,"t":"P","x":28,"y":0.79},{"s":"Rnd","d":10,"t":"P","x":50,"y":0.2},{"s":"Rnd","d":10,"t":"P","x":69,"y":0.79},{"s":"Rnd","d":10,"t":"P","x":97,"y":1.2},{"s":"Rnd","d":10,"t":"P","x":108,"y":0.5},{"s":"Rnd","d":10,"t":"P","x":129,"y":1.1},{"s":"Rnd","d":10,"t":"P","x":160,"y":0.7},{"s":"Rnd","d":10,"t":"P","x":202,"y":1.1},{"s":"Rnd","d":10,"t":"P","x":236,"y":0.4},{"s":"Rnd","d":10,"t":"P","x":294,"y":0.6},{"s":"Rnd","d":10,"t":"P","x":368,"y":0.4},{"s":"Rnd","d":10,"t":"P","x":490,"y":0.2},{"s":"Rnd","d":10,"t":"P","x":612,"y":0.5},{"s":"Rnd","d":10,"t":"P","x":800,"y":0.37},{"s":"Rnd","d":10,"t":"P","x":1120,"y":0.5},{"s":"Rnd","d":10,"t":"P","x":1390,"y":0.2},{"s":"Rnd","d":10,"t":"P","x":1740,"y":0.37},{"s":"Rnd","d":10,"t":"P","x":2430,"y":0.2},{"s":"Rnd","d":10,"t":"P","x":3420,"y":0},{"s":"Rnd","d":10,"t":"P","x":3800,"y":0.37},{"s":"Rnd","d":10,"t":"P","x":4800,"y":0.2},{"s":"Rnd","d":10,"t":"P","x":5000,"y":0.28},
{"s":"Rnd","d":10,"t":"N","x":10,"y":0},{"s":"Rnd","d":10,"t":"N","x":5000,"y":0},
{"s":"Rnd","d":12,"t":"P","x":10,"y":0.6},{"s":"Rnd","d":12,"t":"P","x":18,"y":0.9},{"s":"Rnd","d":12,"t":"P","x":30,"y":0.79},{"s":"Rnd","d":12,"t":"P","x":42,"y":0.2},{"s":"Rnd","d":12,"t":"P","x":53,"y":0.63},{"s":"Rnd","d":12,"t":"P","x":66,"y":0.99},{"s":"Rnd","d":12,"t":"P","x":78,"y":0.5},{"s":"Rnd","d":12,"t":"P","x":92,"y":1.02},{"s":"Rnd","d":12,"t":"P","x":115,"y":0.63},{"s":"Rnd","d":12,"t":"P","x":144,"y":1.3},{"s":"Rnd","d":12,"t":"P","x":169,"y":1.27},{"s":"Rnd","d":12,"t":"P","x":202,"y":0.99},{"s":"Rnd","d":12,"t":"P","x":252,"y":0.25},{"s":"Rnd","d":12,"t":"P","x":315,"y":0.63},{"s":"Rnd","d":12,"t":"P","x":390,"y":0.12},{"s":"Rnd","d":12,"t":"P","x":490,"y":0.5},{"s":"Rnd","d":12,"t":"P","x":680,"y":0.89},{"s":"Rnd","d":12,"t":"P","x":860,"y":0.37},{"s":"Rnd","d":12,"t":"P","x":1200,"y":0.63},{"s":"Rnd","d":12,"t":"P","x":1500,"y":0.2},{"s":"Rnd","d":12,"t":"P","x":1870,"y":0.79},{"s":"Rnd","d":12,"t":"P","x":2450,"y":0.31},{"s":"Rnd","d":12,"t":"P","x":3270,"y":0.4},{"s":"Rnd","d":12,"t":"P","x":4100,"y":0.2},{"s":"Rnd","d":12,"t":"P","x":5000,"y":0.37},
{"s":"Rnd","d":12,"t":"N","x":10,"y":0},{"s":"Rnd","d":12,"t":"N","x":5000,"y":0},
{"s":"Rnd2","d":1,"t":"P","x":10,"y":1.0},{"s":"Rnd2","d":1,"t":"P","x":19.5,"y":0.2},{"s":"Rnd2","d":1,"t":"P","x":27,"y":0.29},{"s":"Rnd2","d":1,"t":"P","x":40,"y":0.49},{"s":"Rnd2","d":1,"t":"P","x":50,"y":0.39},{"s":"Rnd2","d":1,"t":"P","x":66,"y":0.49},{"s":"Rnd2","d":1,"t":"P","x":83,"y":0.39},{"s":"Rnd2","d":1,"t":"P","x":100,"y":0.49},{"s":"Rnd2","d":1,"t":"P","x":129,"y":0.2},{"s":"Rnd2","d":1,"t":"P","x":150,"y":0.41},{"s":"Rnd2","d":1,"t":"P","x":180,"y":0.29},{"s":"Rnd2","d":1,"t":"P","x":230,"y":0.14},{"s":"Rnd2","d":1,"t":"P","x":280,"y":0.31},{"s":"Rnd2","d":1,"t":"P","x":350,"y":0.24},{"s":"Rnd2","d":1,"t":"P","x":440,"y":0.1},{"s":"Rnd2","d":1,"t":"P","x":510,"y":0.14},{"s":"Rnd2","d":1,"t":"P","x":580,"y":0},{"s":"Rnd2","d":1,"t":"P","x":5000,"y":0},
{"s":"Rnd2","d":1,"t":"N","x":10,"y":0},{"s":"Rnd2","d":1,"t":"N","x":5000,"y":0},
{"s":"Rnd2","d":3,"t":"P","x":10,"y":0.39},{"s":"Rnd2","d":3,"t":"P","x":20.4,"y":1.0},{"s":"Rnd2","d":3,"t":"P","x":32,"y":0.77},{"s":"Rnd2","d":3,"t":"P","x":40,"y":0.39},{"s":"Rnd2","d":3,"t":"P","x":59,"y":0.89},{"s":"Rnd2","d":3,"t":"P","x":69,"y":0.07},{"s":"Rnd2","d":3,"t":"P","x":86,"y":0.39},{"s":"Rnd2","d":3,"t":"P","x":121,"y":0.24},{"s":"Rnd2","d":3,"t":"P","x":141,"y":1.2},{"s":"Rnd2","d":3,"t":"P","x":169,"y":0.53},{"s":"Rnd2","d":3,"t":"P","x":188,"y":0.1},{"s":"Rnd2","d":3,"t":"P","x":245,"y":0.17},{"s":"Rnd2","d":3,"t":"P","x":296,"y":0.39},{"s":"Rnd2","d":3,"t":"P","x":575,"y":0.39},{"s":"Rnd2","d":3,"t":"P","x":700,"y":0.2},{"s":"Rnd2","d":3,"t":"P","x":1120,"y":0.17},{"s":"Rnd2","d":3,"t":"P","x":2200,"y":0.2},{"s":"Rnd2","d":3,"t":"P","x":3040,"y":0.39},{"s":"Rnd2","d":3,"t":"P","x":3800,"y":0.17},{"s":"Rnd2","d":3,"t":"P","x":4200,"y":0.29},{"s":"Rnd2","d":3,"t":"P","x":5000,"y":0.1},
{"s":"Rnd2","d":3,"t":"N","x":10,"y":0},{"s":"Rnd2","d":3,"t":"N","x":5000,"y":0},
{"s":"Rnd2","d":5,"t":"P","x":10,"y":1.4},{"s":"Rnd2","d":5,"t":"P","x":19,"y":1.5},{"s":"Rnd2","d":5,"t":"P","x":30,"y":0.6},{"s":"Rnd2","d":5,"t":"P","x":38,"y":0.6},{"s":"Rnd2","d":5,"t":"P","x":52,"y":0.79},{"s":"Rnd2","d":5,"t":"P","x":74,"y":0.6},{"s":"Rnd2","d":5,"t":"P","x":92,"y":0.46},{"s":"Rnd2","d":5,"t":"P","x":118,"y":0.24},{"s":"Rnd2","d":5,"t":"P","x":126,"y":0.49},{"s":"Rnd2","d":5,"t":"P","x":161,"y":0.14},{"s":"Rnd2","d":5,"t":"P","x":200,"y":0.03},{"s":"Rnd2","d":5,"t":"P","x":280,"y":0.07},{"s":"Rnd2","d":5,"t":"P","x":390,"y":0},{"s":"Rnd2","d":5,"t":"P","x":1900,"y":0},{"s":"Rnd2","d":5,"t":"P","x":2380,"y":0.14},{"s":"Rnd2","d":5,"t":"P","x":2900,"y":0.29},{"s":"Rnd2","d":5,"t":"P","x":3300,"y":0.1},{"s":"Rnd2","d":5,"t":"P","x":4000,"y":0.14},{"s":"Rnd2","d":5,"t":"P","x":5000,"y":0.1},
{"s":"Rnd2","d":5,"t":"N","x":10,"y":0},{"s":"Rnd2","d":5,"t":"N","x":5000,"y":0},
{"s":"Rnd2","d":7,"t":"P","x":10,"y":3.1},{"s":"Rnd2","d":7,"t":"P","x":20.4,"y":1.81},{"s":"Rnd2","d":7,"t":"P","x":28.5,"y":0.81},{"s":"Rnd2","d":7,"t":"P","x":40,"y":0.77},{"s":"Rnd2","d":7,"t":"P","x":55,"y":0.53},{"s":"Rnd2","d":7,"t":"P","x":77,"y":0.24},{"s":"Rnd2","d":7,"t":"P","x":97,"y":0.07},{"s":"Rnd2","d":7,"t":"P","x":135,"y":0},{"s":"Rnd2","d":7,"t":"P","x":188,"y":0.1},{"s":"Rnd2","d":7,"t":"P","x":240,"y":0.03},{"s":"Rnd2","d":7,"t":"P","x":330,"y":0.14},{"s":"Rnd2","d":7,"t":"P","x":420,"y":0.03},{"s":"Rnd2","d":7,"t":"P","x":574,"y":0.14},{"s":"Rnd2","d":7,"t":"P","x":720,"y":0},{"s":"Rnd2","d":7,"t":"P","x":1120,"y":0.07},{"s":"Rnd2","d":7,"t":"P","x":1740,"y":0.07},{"s":"Rnd2","d":7,"t":"P","x":2720,"y":0},{"s":"Rnd2","d":7,"t":"P","x":5000,"y":0},
{"s":"Rnd2","d":7,"t":"N","x":10,"y":0},{"s":"Rnd2","d":7,"t":"N","x":5000,"y":0},
{"s":"Rnd2","d":9,"t":"P","x":10,"y":1.91},{"s":"Rnd2","d":9,"t":"P","x":19.5,"y":1.71},{"s":"Rnd2","d":9,"t":"P","x":30,"y":1.91},{"s":"Rnd2","d":9,"t":"P","x":43,"y":1.71},{"s":"Rnd2","d":9,"t":"P","x":53,"y":1.67},{"s":"Rnd2","d":9,"t":"P","x":68,"y":0.96},{"s":"Rnd2","d":9,"t":"P","x":83,"y":0.46},{"s":"Rnd2","d":9,"t":"P","x":92,"y":0.6},{"s":"Rnd2","d":9,"t":"P","x":115,"y":0.29},{"s":"Rnd2","d":9,"t":"P","x":143,"y":0.39},{"s":"Rnd2","d":9,"t":"P","x":180,"y":0.17},{"s":"Rnd2","d":9,"t":"P","x":250,"y":0.24},{"s":"Rnd2","d":9,"t":"P","x":350,"y":0.03},{"s":"Rnd2","d":9,"t":"P","x":440,"y":0},{"s":"Rnd2","d":9,"t":"P","x":3800,"y":0},{"s":"Rnd2","d":9,"t":"P","x":4100,"y":0.1},{"s":"Rnd2","d":9,"t":"P","x":4500,"y":0},{"s":"Rnd2","d":9,"t":"P","x":5000,"y":0},
{"s":"Rnd2","d":9,"t":"N","x":10,"y":0},{"s":"Rnd2","d":9,"t":"N","x":5000,"y":0},
{"s":"Rnd2","d":10,"t":"P","x":10,"y":1.31},{"s":"Rnd2","d":10,"t":"P","x":20,"y":1.39},{"s":"Rnd2","d":10,"t":"P","x":28,"y":0.96},{"s":"Rnd2","d":10,"t":"P","x":40,"y":0.81},{"s":"Rnd2","d":10,"t":"P","x":62,"y":1.6},{"s":"Rnd2","d":10,"t":"P","x":83,"y":1.24},{"s":"Rnd2","d":10,"t":"P","x":97,"y":1.53},{"s":"Rnd2","d":10,"t":"P","x":113,"y":0.6},{"s":"Rnd2","d":10,"t":"P","x":141,"y":1.39},{"s":"Rnd2","d":10,"t":"P","x":169,"y":1.03},{"s":"Rnd2","d":10,"t":"P","x":200,"y":1.24},{"s":"Rnd2","d":10,"t":"P","x":236,"y":0.89},{"s":"Rnd2","d":10,"t":"P","x":263,"y":1.39},{"s":"Rnd2","d":10,"t":"P","x":329,"y":0.24},{"s":"Rnd2","d":10,"t":"P","x":430,"y":0.53},{"s":"Rnd2","d":10,"t":"P","x":500,"y":0.24},{"s":"Rnd2","d":10,"t":"P","x":573,"y":0.6},{"s":"Rnd2","d":10,"t":"P","x":720,"y":0.77},{"s":"Rnd2","d":10,"t":"P","x":800,"y":0.24},{"s":"Rnd2","d":10,"t":"P","x":960,"y":0.53},{"s":"Rnd2","d":10,"t":"P","x":1100,"y":0.29},{"s":"Rnd2","d":10,"t":"P","x":1560,"y":0},{"s":"Rnd2","d":10,"t":"P","x":1940,"y":0.1},{"s":"Rnd2","d":10,"t":"P","x":5000,"y":0.1},
{"s":"Rnd2","d":10,"t":"N","x":10,"y":0},{"s":"Rnd2","d":10,"t":"N","x":5000,"y":0},
{"s":"Rnd2","d":12,"t":"P","x":10,"y":0.41},{"s":"Rnd2","d":12,"t":"P","x":20.8,"y":0.31},{"s":"Rnd2","d":12,"t":"P","x":30,"y":0.43},{"s":"Rnd2","d":12,"t":"P","x":40,"y":1.1},{"s":"Rnd2","d":12,"t":"P","x":59,"y":1.03},{"s":"Rnd2","d":12,"t":"P","x":79,"y":0.46},{"s":"Rnd2","d":12,"t":"P","x":99,"y":0.96},{"s":"Rnd2","d":12,"t":"P","x":115,"y":0.67},{"s":"Rnd2","d":12,"t":"P","x":135,"y":1.24},{"s":"Rnd2","d":12,"t":"P","x":155,"y":0.39},{"s":"Rnd2","d":12,"t":"P","x":202,"y":0.96},{"s":"Rnd2","d":12,"t":"P","x":240,"y":0.6},{"s":"Rnd2","d":12,"t":"P","x":282,"y":0.46},{"s":"Rnd2","d":12,"t":"P","x":380,"y":0.31},{"s":"Rnd2","d":12,"t":"P","x":450,"y":0.39},{"s":"Rnd2","d":12,"t":"P","x":550,"y":0.53},{"s":"Rnd2","d":12,"t":"P","x":680,"y":0.81},{"s":"Rnd2","d":12,"t":"P","x":850,"y":0.17},{"s":"Rnd2","d":12,"t":"P","x":1070,"y":0.34},{"s":"Rnd2","d":12,"t":"P","x":1340,"y":0.46},{"s":"Rnd2","d":12,"t":"P","x":1700,"y":0.17},{"s":"Rnd2","d":12,"t":"P","x":2100,"y":0.43},{"s":"Rnd2","d":12,"t":"P","x":2500,"y":0.1},{"s":"Rnd2","d":12,"t":"P","x":2920,"y":0.46},{"s":"Rnd2","d":12,"t":"P","x":3400,"y":0.14},{"s":"Rnd2","d":12,"t":"P","x":4100,"y":0.1},{"s":"Rnd2","d":12,"t":"P","x":5000,"y":0.06},
{"s":"Rnd2","d":12,"t":"N","x":10,"y":0},{"s":"Rnd2","d":12,"t":"N","x":5000,"y":0},
{"s":"Rnd3","d":1,"t":"P","x":10,"y":0.2},{"s":"Rnd3","d":1,"t":"P","x":19.5,"y":0},{"s":"Rnd3","d":1,"t":"P","x":129,"y":0},{"s":"Rnd3","d":1,"t":"P","x":135,"y":0.1},{"s":"Rnd3","d":1,"t":"P","x":150,"y":0},{"s":"Rnd3","d":1,"t":"P","x":611,"y":0},{"s":"Rnd3","d":1,"t":"P","x":650,"y":0.1},{"s":"Rnd3","d":1,"t":"P","x":810,"y":0.1},{"s":"Rnd3","d":1,"t":"P","x":850,"y":0},{"s":"Rnd3","d":1,"t":"P","x":5000,"y":0},
{"s":"Rnd3","d":1,"t":"N","x":10,"y":0},{"s":"Rnd3","d":1,"t":"N","x":5000,"y":0},
{"s":"Rnd3","d":3,"t":"P","x":10,"y":0.5},{"s":"Rnd3","d":3,"t":"P","x":20.4,"y":0.5},{"s":"Rnd3","d":3,"t":"P","x":30,"y":0.2},{"s":"Rnd3","d":3,"t":"P","x":86,"y":0.2},{"s":"Rnd3","d":3,"t":"P","x":97,"y":0.4},{"s":"Rnd3","d":3,"t":"P","x":115,"y":0.3},{"s":"Rnd3","d":3,"t":"P","x":129,"y":0.5},{"s":"Rnd3","d":3,"t":"P","x":145,"y":0.4},{"s":"Rnd3","d":3,"t":"P","x":169,"y":0.4},{"s":"Rnd3","d":3,"t":"P","x":188,"y":0.6},{"s":"Rnd3","d":3,"t":"P","x":211,"y":0.5},{"s":"Rnd3","d":3,"t":"P","x":245,"y":0},{"s":"Rnd3","d":3,"t":"P","x":275,"y":0.3},{"s":"Rnd3","d":3,"t":"P","x":330,"y":0.1},{"s":"Rnd3","d":3,"t":"P","x":411,"y":0.3},{"s":"Rnd3","d":3,"t":"P","x":460,"y":0.1},{"s":"Rnd3","d":3,"t":"P","x":515,"y":0.3},{"s":"Rnd3","d":3,"t":"P","x":580,"y":0.1},{"s":"Rnd3","d":3,"t":"P","x":720,"y":0.2},{"s":"Rnd3","d":3,"t":"P","x":900,"y":0.2},{"s":"Rnd3","d":3,"t":"P","x":1040,"y":0.1},{"s":"Rnd3","d":3,"t":"P","x":1250,"y":0},{"s":"Rnd3","d":3,"t":"P","x":3800,"y":0},{"s":"Rnd3","d":3,"t":"P","x":3900,"y":0.1},{"s":"Rnd3","d":3,"t":"P","x":4500,"y":0.1},{"s":"Rnd3","d":3,"t":"P","x":4700,"y":0},{"s":"Rnd3","d":3,"t":"P","x":5000,"y":0},
{"s":"Rnd3","d":3,"t":"N","x":10,"y":0},{"s":"Rnd3","d":3,"t":"N","x":5000,"y":0},
{"s":"Rnd3","d":5,"t":"P","x":10,"y":0.2},{"s":"Rnd3","d":5,"t":"P","x":14,"y":0.14},{"s":"Rnd3","d":5,"t":"P","x":21.8,"y":0.1},{"s":"Rnd3","d":5,"t":"P","x":54,"y":0.1},{"s":"Rnd3","d":5,"t":"P","x":69,"y":0.3},{"s":"Rnd3","d":5,"t":"P","x":79,"y":0.2},{"s":"Rnd3","d":5,"t":"P","x":100,"y":0.3},{"s":"Rnd3","d":5,"t":"P","x":112,"y":0.1},{"s":"Rnd3","d":5,"t":"P","x":161,"y":0.2},{"s":"Rnd3","d":5,"t":"P","x":200,"y":0.1},{"s":"Rnd3","d":5,"t":"P","x":250,"y":0},{"s":"Rnd3","d":5,"t":"P","x":315,"y":0.1},{"s":"Rnd3","d":5,"t":"P","x":440,"y":0},{"s":"Rnd3","d":5,"t":"P","x":620,"y":0.1},{"s":"Rnd3","d":5,"t":"P","x":780,"y":0},{"s":"Rnd3","d":5,"t":"P","x":870,"y":0.3},{"s":"Rnd3","d":5,"t":"P","x":1100,"y":0.2},{"s":"Rnd3","d":5,"t":"P","x":1500,"y":0.1},{"s":"Rnd3","d":5,"t":"P","x":1900,"y":0.2},{"s":"Rnd3","d":5,"t":"P","x":2650,"y":0.1},{"s":"Rnd3","d":5,"t":"P","x":3300,"y":0.2},{"s":"Rnd3","d":5,"t":"P","x":4400,"y":0.1},{"s":"Rnd3","d":5,"t":"P","x":5000,"y":0.2},
{"s":"Rnd3","d":5,"t":"N","x":10,"y":0},{"s":"Rnd3","d":5,"t":"N","x":5000,"y":0},
{"s":"Rnd3","d":7,"t":"P","x":10,"y":0.4},{"s":"Rnd3","d":7,"t":"P","x":20.4,"y":0.6},{"s":"Rnd3","d":7,"t":"P","x":30,"y":0},{"s":"Rnd3","d":7,"t":"P","x":40,"y":0.1},{"s":"Rnd3","d":7,"t":"P","x":50,"y":0},{"s":"Rnd3","d":7,"t":"P","x":5000,"y":0},
{"s":"Rnd3","d":7,"t":"N","x":10,"y":0},{"s":"Rnd3","d":7,"t":"N","x":5000,"y":0},
{"s":"Rnd3","d":9,"t":"P","x":10,"y":0.1},{"s":"Rnd3","d":9,"t":"P","x":19.5,"y":0},{"s":"Rnd3","d":9,"t":"P","x":30,"y":0.1},{"s":"Rnd3","d":9,"t":"P","x":53,"y":0.1},{"s":"Rnd3","d":9,"t":"P","x":62,"y":0},{"s":"Rnd3","d":9,"t":"P","x":74,"y":0.1},{"s":"Rnd3","d":9,"t":"P","x":88,"y":0},{"s":"Rnd3","d":9,"t":"P","x":103,"y":0.1},{"s":"Rnd3","d":9,"t":"P","x":115,"y":0},{"s":"Rnd3","d":9,"t":"P","x":5000,"y":0},
{"s":"Rnd3","d":9,"t":"N","x":10,"y":0},{"s":"Rnd3","d":9,"t":"N","x":5000,"y":0},
{"s":"Rnd3","d":10,"t":"P","x":10,"y":0.6},{"s":"Rnd3","d":10,"t":"P","x":28,"y":0},{"s":"Rnd3","d":10,"t":"P","x":40,"y":0.1},{"s":"Rnd3","d":10,"t":"P","x":50,"y":0.1},{"s":"Rnd3","d":10,"t":"P","x":58,"y":0.31},{"s":"Rnd3","d":10,"t":"P","x":69,"y":0.1},{"s":"Rnd3","d":10,"t":"P","x":86,"y":0.1},{"s":"Rnd3","d":10,"t":"P","x":97,"y":0.2},{"s":"Rnd3","d":10,"t":"P","x":108,"y":0.1},{"s":"Rnd3","d":10,"t":"P","x":125,"y":0.1},{"s":"Rnd3","d":10,"t":"P","x":135,"y":0},{"s":"Rnd3","d":10,"t":"P","x":5000,"y":0},
{"s":"Rnd3","d":10,"t":"N","x":10,"y":0},{"s":"Rnd3","d":10,"t":"N","x":5000,"y":0},
{"s":"Rnd3","d":12,"t":"P","x":10,"y":0.3},{"s":"Rnd3","d":12,"t":"P","x":19.5,"y":0.2},{"s":"Rnd3","d":12,"t":"P","x":30,"y":0.1},{"s":"Rnd3","d":12,"t":"P","x":40,"y":0.2},{"s":"Rnd3","d":12,"t":"P","x":53,"y":0.2},{"s":"Rnd3","d":12,"t":"P","x":69,"y":0},{"s":"Rnd3","d":12,"t":"P","x":144,"y":0},{"s":"Rnd3","d":12,"t":"P","x":155,"y":0.1},{"s":"Rnd3","d":12,"t":"P","x":165,"y":0},{"s":"Rnd3","d":12,"t":"P","x":220,"y":0},{"s":"Rnd3","d":12,"t":"P","x":230,"y":0.1},{"s":"Rnd3","d":12,"t":"P","x":240,"y":0},{"s":"Rnd3","d":12,"t":"P","x":5000,"y":0},
{"s":"Rnd3","d":12,"t":"N","x":10,"y":0},{"s":"Rnd3","d":12,"t":"N","x":5000,"y":0}
]},
"spacing": 0.5,
"vconcat": [
 {"spacing": 0, "vconcat": [
  {"data": {"values": [{"d":1,"lab":"Depth: 1"},{"d":3,"lab":"Depth: 3"},{"d":5,"lab":"Depth: 5"},{"d":7,"lab":"Depth: 7"},{"d":9,"lab":"Depth: 9"},{"d":10,"lab":"Depth: 10"},{"d":12,"lab":"Depth: 12"}]},
   "facet": {"column": {"field": "d", "type": "ordinal", "header": {"labels": false, "title": null}}},
   "spacing": 4.5,
   "spec": {"width": 103, "height": 18, "view": {"fill": "#CCCCCC", "stroke": null},
    "mark": {"type": "text", "fontSize": 12, "color": "#1A1A1A"},
    "encoding": {"text": {"field": "lab", "type": "nominal"},
     "y": {"datum": 0.5, "type": "quantitative", "scale": {"domain": [0, 1]}, "axis": {"title": null, "labels": false, "ticks": false, "grid": false, "minExtent": 30, "maxExtent": 30}}}}},
  {"spacing": 1, "hconcat": [
   {"data": {"name": "m"}, "transform": [{"filter": "datum.s == 'Iri'"}],
    "facet": {"column": {"field": "d", "type": "ordinal", "header": {"labels": false, "title": null}}},
    "spacing": 4.5,
    "spec": {"width": 103, "height": 80, "mark": {"type": "line", "strokeWidth": 1.4},
     "encoding": {
      "x": {"field": "x", "type": "quantitative", "scale": {"type": "log", "domain": [7.3, 6840], "nice": false}, "axis": {"title": null, "values": [10, 31.6228, 100, 316.228, 1000, 3162.28], "labels": false, "ticks": false, "gridColor": {"condition": {"test": "datum.value == 10 || datum.value == 100 || datum.value == 1000", "value": "#FFFFFF"}, "value": "#F2F2F2"}, "gridWidth": {"condition": {"test": "datum.value == 10 || datum.value == 100 || datum.value == 1000", "value": 1.4}, "value": 0.7}}},
      "y": {"field": "y", "type": "quantitative", "scale": {"domain": [-0.19, 4.04], "nice": false, "zero": false}, "axis": {"title": null, "values": [0, 0.5, 1, 1.5, 2, 2.5, 3, 3.5], "format": "d", "labelExpr": "datum.value % 1 == 0 ? datum.label : ''", "tickOpacity": {"condition": {"test": "datum.value % 1 == 0", "value": 1}, "value": 0}, "gridColor": {"condition": {"test": "datum.value % 1 == 0", "value": "#FFFFFF"}, "value": "#F2F2F2"}, "gridWidth": {"condition": {"test": "datum.value % 1 == 0", "value": 1.4}, "value": 0.7}, "minExtent": 30, "maxExtent": 30}},
      "color": {"field": "t", "type": "nominal", "scale": {"domain": ["P", "N"], "range": ["#F8766D", "#00BFC4"]}, "legend": {"title": null, "orient": "none", "legendX": 264, "legendY": 580, "direction": "horizontal", "labelExpr": "datum.label == 'P' ? 'False positives' : 'False negatives'"}},
      "strokeDash": {"field": "t", "type": "nominal", "scale": {"domain": ["P", "N"], "range": [[1, 0], [3, 3]]}, "legend": {"title": null, "orient": "none", "legendX": 264, "legendY": 580, "direction": "horizontal", "labelExpr": "datum.label == 'P' ? 'False positives' : 'False negatives'"}}}}},
   {"data": {"values": [{"s": "Iri"}]}, "width": 18, "height": 80, "view": {"fill": "#CCCCCC", "stroke": null}, "mark": {"type": "text", "angle": 90, "fontSize": 12, "color": "#1A1A1A"}, "encoding": {"text": {"field": "s", "type": "nominal"}}}
  ]}
 ]},
 {"spacing": 1, "hconcat": [
  {"data": {"name": "m"}, "transform": [{"filter": "datum.s == 'Iri2'"}],
   "facet": {"column": {"field": "d", "type": "ordinal", "header": {"labels": false, "title": null}}},
   "spacing": 4.5,
   "spec": {"width": 103, "height": 80, "mark": {"type": "line", "strokeWidth": 1.4},
    "encoding": {
     "x": {"field": "x", "type": "quantitative", "scale": {"type": "log", "domain": [7.3, 6840], "nice": false}, "axis": {"title": null, "values": [10, 31.6228, 100, 316.228, 1000, 3162.28], "labels": false, "ticks": false, "gridColor": {"condition": {"test": "datum.value == 10 || datum.value == 100 || datum.value == 1000", "value": "#FFFFFF"}, "value": "#F2F2F2"}, "gridWidth": {"condition": {"test": "datum.value == 10 || datum.value == 100 || datum.value == 1000", "value": 1.4}, "value": 0.7}}},
     "y": {"field": "y", "type": "quantitative", "scale": {"domain": [-0.15, 2.95], "nice": false, "zero": false}, "axis": {"title": null, "values": [0, 0.5, 1, 1.5, 2, 2.5], "format": "d", "labelExpr": "datum.value % 1 == 0 ? datum.label : ''", "tickOpacity": {"condition": {"test": "datum.value % 1 == 0", "value": 1}, "value": 0}, "gridColor": {"condition": {"test": "datum.value % 1 == 0", "value": "#FFFFFF"}, "value": "#F2F2F2"}, "gridWidth": {"condition": {"test": "datum.value % 1 == 0", "value": 1.4}, "value": 0.7}, "minExtent": 30, "maxExtent": 30}},
     "color": {"field": "t", "type": "nominal", "scale": {"domain": ["P", "N"], "range": ["#F8766D", "#00BFC4"]}, "legend": {"title": null, "orient": "none", "legendX": 264, "legendY": 580, "direction": "horizontal", "labelExpr": "datum.label == 'P' ? 'False positives' : 'False negatives'"}},
     "strokeDash": {"field": "t", "type": "nominal", "scale": {"domain": ["P", "N"], "range": [[1, 0], [3, 3]]}, "legend": {"title": null, "orient": "none", "legendX": 264, "legendY": 580, "direction": "horizontal", "labelExpr": "datum.label == 'P' ? 'False positives' : 'False negatives'"}}}}},
  {"data": {"values": [{"s": "Iri2"}]}, "width": 18, "height": 80, "view": {"fill": "#CCCCCC", "stroke": null}, "mark": {"type": "text", "angle": 90, "fontSize": 12, "color": "#1A1A1A"}, "encoding": {"text": {"field": "s", "type": "nominal"}}}
 ]},
 {"spacing": 1, "hconcat": [
  {"data": {"name": "m"}, "transform": [{"filter": "datum.s == 'Mad'"}],
   "facet": {"column": {"field": "d", "type": "ordinal", "header": {"labels": false, "title": null}}},
   "spacing": 4.5,
   "spec": {"width": 103, "height": 80, "mark": {"type": "line", "strokeWidth": 1.4},
    "encoding": {
     "x": {"field": "x", "type": "quantitative", "scale": {"type": "log", "domain": [7.3, 6840], "nice": false}, "axis": {"title": null, "values": [10, 31.6228, 100, 316.228, 1000, 3162.28], "labels": false, "ticks": false, "gridColor": {"condition": {"test": "datum.value == 10 || datum.value == 100 || datum.value == 1000", "value": "#FFFFFF"}, "value": "#F2F2F2"}, "gridWidth": {"condition": {"test": "datum.value == 10 || datum.value == 100 || datum.value == 1000", "value": 1.4}, "value": 0.7}}},
     "y": {"field": "y", "type": "quantitative", "scale": {"domain": [-0.9, 19], "nice": false, "zero": false}, "axis": {"title": null, "values": [0, 2.5, 5, 7.5, 10, 12.5, 15, 17.5], "format": "d", "labelExpr": "datum.value % 5 == 0 ? datum.label : ''", "tickOpacity": {"condition": {"test": "datum.value % 5 == 0", "value": 1}, "value": 0}, "gridColor": {"condition": {"test": "datum.value % 5 == 0", "value": "#FFFFFF"}, "value": "#F2F2F2"}, "gridWidth": {"condition": {"test": "datum.value % 5 == 0", "value": 1.4}, "value": 0.7}, "minExtent": 30, "maxExtent": 30}},
     "color": {"field": "t", "type": "nominal", "scale": {"domain": ["P", "N"], "range": ["#F8766D", "#00BFC4"]}, "legend": {"title": null, "orient": "none", "legendX": 264, "legendY": 580, "direction": "horizontal", "labelExpr": "datum.label == 'P' ? 'False positives' : 'False negatives'"}},
     "strokeDash": {"field": "t", "type": "nominal", "scale": {"domain": ["P", "N"], "range": [[1, 0], [3, 3]]}, "legend": {"title": null, "orient": "none", "legendX": 264, "legendY": 580, "direction": "horizontal", "labelExpr": "datum.label == 'P' ? 'False positives' : 'False negatives'"}}}}},
  {"data": {"values": [{"s": "Mad"}]}, "width": 18, "height": 80, "view": {"fill": "#CCCCCC", "stroke": null}, "mark": {"type": "text", "angle": 90, "fontSize": 12, "color": "#1A1A1A"}, "encoding": {"text": {"field": "s", "type": "nominal"}}}
 ]},
 {"spacing": 1, "hconcat": [
  {"data": {"name": "m"}, "transform": [{"filter": "datum.s == 'Rnd'"}],
   "facet": {"column": {"field": "d", "type": "ordinal", "header": {"labels": false, "title": null}}},
   "spacing": 4.5,
   "spec": {"width": 103, "height": 80, "mark": {"type": "line", "strokeWidth": 1.4},
    "encoding": {
     "x": {"field": "x", "type": "quantitative", "scale": {"type": "log", "domain": [7.3, 6840], "nice": false}, "axis": {"title": null, "values": [10, 31.6228, 100, 316.228, 1000, 3162.28], "labels": false, "ticks": false, "gridColor": {"condition": {"test": "datum.value == 10 || datum.value == 100 || datum.value == 1000", "value": "#FFFFFF"}, "value": "#F2F2F2"}, "gridWidth": {"condition": {"test": "datum.value == 10 || datum.value == 100 || datum.value == 1000", "value": 1.4}, "value": 0.7}}},
     "y": {"field": "y", "type": "quantitative", "scale": {"domain": [-0.07, 1.47], "nice": false, "zero": false}, "axis": {"title": null, "values": [0, 0.25, 0.5, 0.75, 1, 1.25], "format": ".1f", "labelExpr": "round(datum.value * 4) % 2 == 0 ? datum.label : ''", "tickOpacity": {"condition": {"test": "round(datum.value * 4) % 2 == 0", "value": 1}, "value": 0}, "gridColor": {"condition": {"test": "round(datum.value * 4) % 2 == 0", "value": "#FFFFFF"}, "value": "#F2F2F2"}, "gridWidth": {"condition": {"test": "round(datum.value * 4) % 2 == 0", "value": 1.4}, "value": 0.7}, "minExtent": 30, "maxExtent": 30}},
     "color": {"field": "t", "type": "nominal", "scale": {"domain": ["P", "N"], "range": ["#F8766D", "#00BFC4"]}, "legend": {"title": null, "orient": "none", "legendX": 264, "legendY": 580, "direction": "horizontal", "labelExpr": "datum.label == 'P' ? 'False positives' : 'False negatives'"}},
     "strokeDash": {"field": "t", "type": "nominal", "scale": {"domain": ["P", "N"], "range": [[1, 0], [3, 3]]}, "legend": {"title": null, "orient": "none", "legendX": 264, "legendY": 580, "direction": "horizontal", "labelExpr": "datum.label == 'P' ? 'False positives' : 'False negatives'"}}}}},
  {"data": {"values": [{"s": "Rnd"}]}, "width": 18, "height": 80, "view": {"fill": "#CCCCCC", "stroke": null}, "mark": {"type": "text", "angle": 90, "fontSize": 12, "color": "#1A1A1A"}, "encoding": {"text": {"field": "s", "type": "nominal"}}}
 ]},
 {"spacing": 1, "hconcat": [
  {"data": {"name": "m"}, "transform": [{"filter": "datum.s == 'Rnd2'"}],
   "facet": {"column": {"field": "d", "type": "ordinal", "header": {"labels": false, "title": null}}},
   "spacing": 4.5,
   "spec": {"width": 103, "height": 80, "mark": {"type": "line", "strokeWidth": 1.4},
    "encoding": {
     "x": {"field": "x", "type": "quantitative", "scale": {"type": "log", "domain": [7.3, 6840], "nice": false}, "axis": {"title": null, "values": [10, 31.6228, 100, 316.228, 1000, 3162.28], "labels": false, "ticks": false, "gridColor": {"condition": {"test": "datum.value == 10 || datum.value == 100 || datum.value == 1000", "value": "#FFFFFF"}, "value": "#F2F2F2"}, "gridWidth": {"condition": {"test": "datum.value == 10 || datum.value == 100 || datum.value == 1000", "value": 1.4}, "value": 0.7}}},
     "y": {"field": "y", "type": "quantitative", "scale": {"domain": [-0.16, 3.27], "nice": false, "zero": false}, "axis": {"title": null, "values": [0, 0.5, 1, 1.5, 2, 2.5, 3], "format": "d", "labelExpr": "datum.value % 1 == 0 ? datum.label : ''", "tickOpacity": {"condition": {"test": "datum.value % 1 == 0", "value": 1}, "value": 0}, "gridColor": {"condition": {"test": "datum.value % 1 == 0", "value": "#FFFFFF"}, "value": "#F2F2F2"}, "gridWidth": {"condition": {"test": "datum.value % 1 == 0", "value": 1.4}, "value": 0.7}, "minExtent": 30, "maxExtent": 30}},
     "color": {"field": "t", "type": "nominal", "scale": {"domain": ["P", "N"], "range": ["#F8766D", "#00BFC4"]}, "legend": {"title": null, "orient": "none", "legendX": 264, "legendY": 580, "direction": "horizontal", "labelExpr": "datum.label == 'P' ? 'False positives' : 'False negatives'"}},
     "strokeDash": {"field": "t", "type": "nominal", "scale": {"domain": ["P", "N"], "range": [[1, 0], [3, 3]]}, "legend": {"title": null, "orient": "none", "legendX": 264, "legendY": 580, "direction": "horizontal", "labelExpr": "datum.label == 'P' ? 'False positives' : 'False negatives'"}}}}},
  {"data": {"values": [{"s": "Rnd2"}]}, "width": 18, "height": 80, "view": {"fill": "#CCCCCC", "stroke": null}, "mark": {"type": "text", "angle": 90, "fontSize": 12, "color": "#1A1A1A"}, "encoding": {"text": {"field": "s", "type": "nominal"}}}
 ]},
 {"spacing": 1,
  "title": {"text": "Average number of each attribute scans", "orient": "bottom", "anchor": "middle", "offset": 1},
  "hconcat": [
  {"data": {"name": "m"}, "transform": [{"filter": "datum.s == 'Rnd3'"}],
   "facet": {"column": {"field": "d", "type": "ordinal", "header": {"labels": false, "title": null}}},
   "spacing": 4.5,
   "spec": {"width": 103, "height": 80, "mark": {"type": "line", "strokeWidth": 1.4},
    "encoding": {
     "x": {"field": "x", "type": "quantitative", "scale": {"type": "log", "domain": [7.3, 6840], "nice": false}, "axis": {"title": null, "values": [10, 31.6228, 100, 316.228, 1000, 3162.28], "format": "d", "labelPadding": 3, "labelExpr": "datum.value == 10 || datum.value == 100 || datum.value == 1000 ? datum.label : ''", "tickOpacity": {"condition": {"test": "datum.value == 10 || datum.value == 100 || datum.value == 1000", "value": 1}, "value": 0}, "gridColor": {"condition": {"test": "datum.value == 10 || datum.value == 100 || datum.value == 1000", "value": "#FFFFFF"}, "value": "#F2F2F2"}, "gridWidth": {"condition": {"test": "datum.value == 10 || datum.value == 100 || datum.value == 1000", "value": 1.4}, "value": 0.7}}},
     "y": {"field": "y", "type": "quantitative", "scale": {"domain": [-0.03, 0.63], "nice": false, "zero": false}, "axis": {"title": null, "values": [0, 0.1, 0.2, 0.3, 0.4, 0.5, 0.6], "format": ".1f", "labelExpr": "round(datum.value * 10) % 2 == 0 ? datum.label : ''", "tickOpacity": {"condition": {"test": "round(datum.value * 10) % 2 == 0", "value": 1}, "value": 0}, "gridColor": {"condition": {"test": "round(datum.value * 10) % 2 == 0", "value": "#FFFFFF"}, "value": "#F2F2F2"}, "gridWidth": {"condition": {"test": "round(datum.value * 10) % 2 == 0", "value": 1.4}, "value": 0.7}, "minExtent": 30, "maxExtent": 30}},
     "color": {"field": "t", "type": "nominal", "scale": {"domain": ["P", "N"], "range": ["#F8766D", "#00BFC4"]}, "legend": {"title": null, "orient": "none", "legendX": 264, "legendY": 580, "direction": "horizontal", "labelExpr": "datum.label == 'P' ? 'False positives' : 'False negatives'"}},
     "strokeDash": {"field": "t", "type": "nominal", "scale": {"domain": ["P", "N"], "range": [[1, 0], [3, 3]]}, "legend": {"title": null, "orient": "none", "legendX": 264, "legendY": 580, "direction": "horizontal", "labelExpr": "datum.label == 'P' ? 'False positives' : 'False negatives'"}}}}},
  {"data": {"values": [{"s": "Rnd3"}]}, "width": 18, "height": 80, "view": {"fill": "#CCCCCC", "stroke": null}, "mark": {"type": "text", "angle": 90, "fontSize": 12, "color": "#1A1A1A"}, "encoding": {"text": {"field": "s", "type": "nominal"}}}
 ]}
]
}
